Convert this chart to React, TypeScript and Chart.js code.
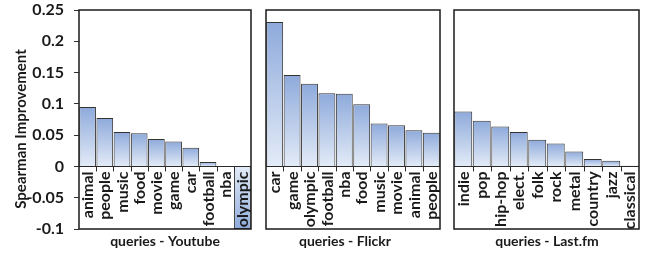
import React, { useEffect, useRef } from "react";
import { Chart, registerables } from "chart.js";

Chart.register(...registerables);

const yTickValues = [0.25, 0.2, 0.15, 0.1, 0.05, 0, -0.05, -0.1];
const yMin = -0.1;
const yMax = 0.25;

const youtubeCategories = ["animal", "people", "music", "food", "movie", "game", "car", "football", "nba", "olympic"];
const youtubeValues = [0.095, 0.0775, 0.055, 0.053, 0.044, 0.04, 0.03, 0.007, 0.0005, -0.1];

const flickrCategories = ["car", "game", "olympic", "football", "nba", "food", "music", "movie", "animal", "people"];
const flickrValues = [0.231, 0.146, 0.132, 0.117, 0.116, 0.0995, 0.0685, 0.066, 0.058, 0.054];

const lastfmCategories = ["indie", "pop", "hip-hop", "elect.", "folk", "rock", "metal", "country", "jazz", "classical"];
const lastfmValues = [0.0876, 0.073, 0.064, 0.055, 0.0425, 0.0366, 0.024, 0.012, 0.009, 0.001];

const FONT = "Lato, 'Open Sans', 'DejaVu Sans', sans-serif";
const TEXT = "#1a1a1a";

type PanelProps = {
  categories: string[];
  values: number[];
  title: string;
  showY: boolean;
  left: number;
  width: number;
  padLeft: number;
  padRight: number;
  titleX: number;
};

function Panel(p: PanelProps) {
  const ref = useRef<HTMLCanvasElement | null>(null);
  useEffect(() => {
    if (!ref.current) return;
    const decor = {
      id: "decor",
      beforeDatasetsDraw(chart: any) {
        const { ctx, chartArea } = chart;
        ctx.save();
        ctx.fillStyle = "#ffffff";
        ctx.fillRect(chartArea.left, chartArea.top, chartArea.right - chartArea.left, chartArea.bottom - chartArea.top);
        ctx.restore();
      },
      afterDatasetsDraw(chart: any) {
        const { ctx, chartArea } = chart;
        const x = chart.scales.x;
        const y = chart.scales.y;
        const z = y.getPixelForValue(0);
        ctx.save();
        ctx.strokeStyle = "#2a2a2a";
        ctx.lineWidth = 1;
        ctx.beginPath();
        ctx.moveTo(chartArea.left, Math.round(z) + 0.5);
        ctx.lineTo(chartArea.right, Math.round(z) + 0.5);
        ctx.stroke();
        const n = p.categories.length;
        const w = (chartArea.right - chartArea.left) / n;
        for (let i = 1; i < n; i++) {
          const bx = Math.round(chartArea.left + i * w) + 0.5;
          ctx.beginPath();
          ctx.moveTo(bx, z);
          ctx.lineTo(bx, z + 5);
          ctx.stroke();
        }
        ctx.fillStyle = TEXT;
        ctx.font = `bold 16px ${FONT}`;
        ctx.textAlign = "right";
        ctx.textBaseline = "middle";
        p.categories.forEach((c, i) => {
          const cx = x.getPixelForValue(i);
          ctx.save();
          ctx.translate(cx + 0.5, z + 5);
          ctx.rotate(-Math.PI / 2);
          ctx.fillText(c, 0, 0);
          ctx.restore();
        });
        ctx.strokeStyle = "#1a1a1a";
        ctx.lineWidth = 1.5;
        ctx.strokeRect(chartArea.left, chartArea.top, chartArea.right - chartArea.left, chartArea.bottom - chartArea.top);
        ctx.font = `bold 14px ${FONT}`;
        ctx.textAlign = "center";
        ctx.textBaseline = "middle";
        ctx.fillText(p.title, p.titleX - p.left, 241);
        if (p.showY) {
          ctx.save();
          ctx.font = `bold 15px ${FONT}`;
          ctx.translate(21, 129);
          ctx.rotate(-Math.PI / 2);
          ctx.fillText("Spearman Improvement", 0, 0);
          ctx.restore();
        }
        ctx.restore();
      },
    };
    const chart = new Chart(ref.current, {
      type: "bar",
      data: {
        labels: p.categories,
        datasets: [
          {
            data: p.values,
            borderColor: "#333333",
            borderWidth: 1,
            barPercentage: 0.97,
            categoryPercentage: 1,
            backgroundColor: (ctx: any) => {
              const chart = ctx.chart;
              const ys = chart.scales.y;
              if (!chart.chartArea || !ys) return "#a9c0e6";
              const v = ctx.raw as number;
              const p0 = ys.getPixelForValue(0);
              const p1 = ys.getPixelForValue(v);
              if (Math.abs(p1 - p0) < 1) return "#dfe8f6";
              const g = chart.ctx.createLinearGradient(0, p1, 0, p0);
              g.addColorStop(0, "#8eaadb");
              g.addColorStop(1, "#e3ebf7");
              return g;
            },
          },
        ],
      },
      options: {
        animation: false,
        responsive: false,
        maintainAspectRatio: false,
        layout: { padding: { left: p.padLeft, right: p.padRight, top: 10, bottom: 26 } },
        plugins: { legend: { display: false }, tooltip: { enabled: false } },
        scales: {
          x: { display: false },
          y: {
            display: p.showY,
            min: yMin,
            max: yMax,
            afterFit: (s: any) => {
              if (p.showY) s.width = 79;
              else s.width = 0;
              s.paddingTop = 0;
              s.paddingBottom = 0;
            },
            afterBuildTicks: (s: any) => {
              s.ticks = yTickValues.map((v) => ({ value: v }));
            },
            ticks: {
              padding: 10,
              color: TEXT,
              font: { family: FONT, size: 16, weight: "bold" },
              callback: (v: any) => String(Number(Number(v).toFixed(2))),
            },
            grid: { drawOnChartArea: false, drawTicks: true, tickLength: 5, color: "#333333" },
            border: { display: false },
          },
        },
      },
      plugins: [decor],
    });
    return () => chart.destroy();
  }, []);
  return (
    <canvas
      ref={ref}
      width={p.width}
      height={255}
      style={{ position: "absolute", left: p.left, top: 0, width: p.width, height: 255 }}
    />
  );
}

export default function App() {
  return (
    <div style={{ position: "fixed", left: 0, top: 0, width: 654, height: 255, background: "#ffffff" }}>
      <Panel categories={youtubeCategories} values={youtubeValues} title="queries - Youtube" showY={true} left={0} width={256} padLeft={0} padRight={5} titleX={165} />
      <Panel categories={flickrCategories} values={flickrValues} title="queries - Flickr" showY={false} left={256} width={190} padLeft={10} padRight={6} titleX={345} />
      <Panel categories={lastfmCategories} values={lastfmValues} title="queries - Last.fm" showY={false} left={446} width={200} padLeft={8} padRight={7} titleX={547} />
    </div>
  );
}
